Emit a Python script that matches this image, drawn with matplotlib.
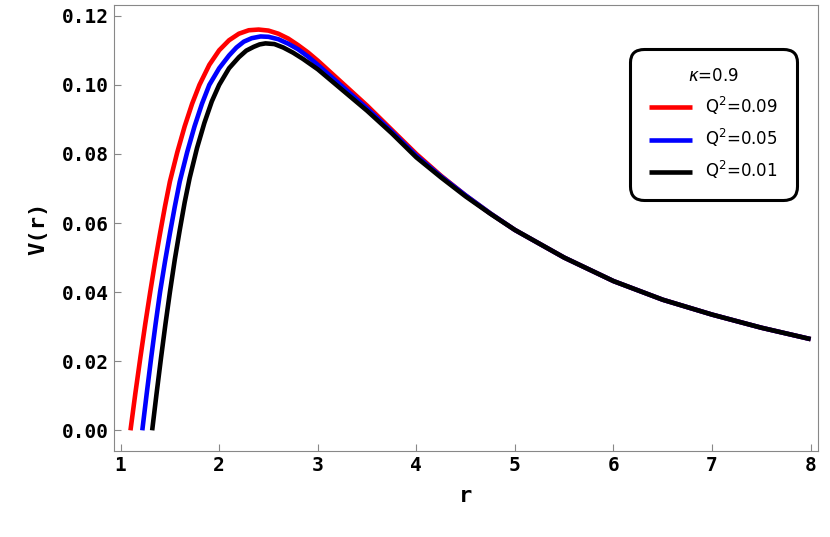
import matplotlib
matplotlib.use("Agg")
import matplotlib.pyplot as plt

r_red = [1.1,1.15,1.2,1.25,1.3,1.35,1.4,1.45,1.5,1.575,1.65,1.725,1.8,1.9,2.0,2.1,2.2,2.3,2.4,2.5,2.6,2.7,2.8,2.9,3.0,3.25,3.5,3.75,4.0,4.25,4.5,4.75,5.0,5.5,6.0,6.5,7.0,7.5,8.0]
v_red = [0.0,0.0108,0.021,0.0308,0.040,0.0488,0.057,0.0648,0.072,0.0805,0.088,0.0945,0.100,0.1058,0.110,0.1129,0.1148,0.1158,0.116,0.1157,0.1148,0.1134,0.1115,0.1094,0.107,0.1005,0.094,0.087,0.080,0.0737,0.068,0.0628,0.058,0.050,0.0432,0.0378,0.0335,0.0297,0.0264]
r_blue = [1.22,1.265,1.31,1.355,1.4,1.45,1.5,1.55,1.6,1.675,1.75,1.825,1.9,2.0,2.1,2.175,2.25,2.33,2.42,2.5,2.6,2.7,2.8,2.9,3.0,3.25,3.5,3.75,4.0,4.25,4.5,4.75,5.0,5.5,6.0,6.5,7.0,7.5,8.0]
v_blue = [0.0,0.0107,0.021,0.0308,0.040,0.0488,0.057,0.0648,0.072,0.0805,0.088,0.0945,0.100,0.1048,0.1085,0.1108,0.1125,0.1135,0.114,0.1139,0.1132,0.1119,0.1103,0.1082,0.1058,0.0995,0.0932,0.0865,0.0795,0.0735,0.068,0.0628,0.058,0.050,0.0432,0.0378,0.0335,0.0297,0.0264]
r_black = [1.32,1.365,1.41,1.455,1.5,1.55,1.6,1.65,1.7,1.775,1.85,1.925,2.0,2.1,2.2,2.275,2.35,2.41,2.47,2.56,2.65,2.75,2.85,2.93,3.0,3.25,3.5,3.75,4.0,4.25,4.5,4.75,5.0,5.5,6.0,6.5,7.0,7.5,8.0]
v_black = [0.0,0.0107,0.021,0.0308,0.040,0.0495,0.058,0.066,0.073,0.0817,0.089,0.0952,0.100,0.1048,0.108,0.1099,0.111,0.1117,0.112,0.1118,0.1108,0.1093,0.1075,0.1059,0.1045,0.0985,0.0925,0.086,0.079,0.0732,0.0677,0.0627,0.058,0.050,0.0432,0.0378,0.0335,0.0297,0.0264]
labels = ["Q$^2$=0.09", "Q$^2$=0.05", "Q$^2$=0.01"]
colors = ["red", "blue", "black"]

fig = plt.figure(figsize=(8.3, 5.37), dpi=100)
ax = fig.add_axes([0.137, 0.16, 0.848, 0.83])
for rr, vv, c, l in zip([r_red, r_blue, r_black], [v_red, v_blue, v_black], colors, labels):
    ax.plot(rr, vv, color=c, lw=3.3, label=l, solid_capstyle="butt", solid_joinstyle="round")
ax.set_xlim(0.93, 8.07)
ax.set_ylim(-0.006, 0.123)
ax.set_xticks(range(1, 9))
ax.set_yticks([0, 0.02, 0.04, 0.06, 0.08, 0.10, 0.12])
ax.set_yticklabels(["0.00","0.02","0.04","0.06","0.08","0.10","0.12"])
for s in ax.spines.values():
    s.set_color("#888888")
ax.tick_params(direction="in", colors="#888888", labelcolor="black", length=5)
for t in ax.get_xticklabels() + ax.get_yticklabels():
    t.set_fontfamily("DejaVu Sans Mono"); t.set_fontweight("bold"); t.set_fontsize(14)
ax.set_xlabel("r", fontsize=16, fontweight="bold", family="DejaVu Sans Mono", labelpad=8)
ax.set_ylabel("V(r)", fontsize=16, fontweight="bold", family="DejaVu Sans Mono", labelpad=10)
leg = ax.legend(loc="upper right", bbox_to_anchor=(0.975, 0.91), title=r"$\kappa$=0.9",
                fontsize=12, title_fontsize=12, frameon=True, fancybox=True,
                handlelength=2.6, borderpad=0.8, labelspacing=0.6)
leg.get_frame().set_edgecolor("black"); leg.get_frame().set_linewidth(2.2)
leg.get_frame().set_alpha(1)
leg.get_frame().set_boxstyle("round,pad=0.3,rounding_size=0.8")
fig.savefig("out.png")
